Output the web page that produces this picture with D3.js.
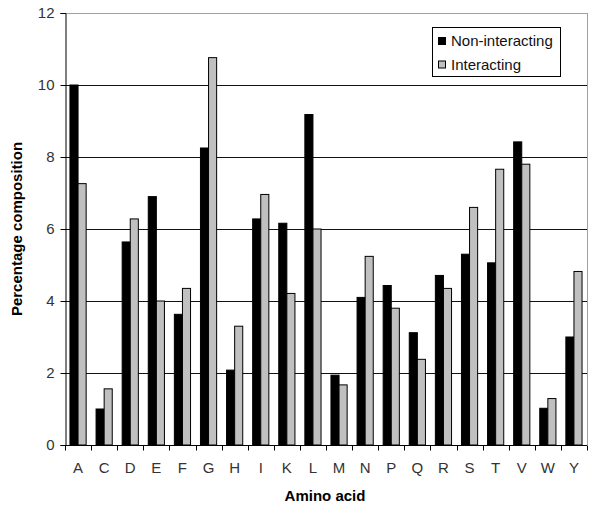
<!DOCTYPE html>
<html>
<head>
<meta charset="utf-8">
<script src="https://cdn.jsdelivr.net/npm/d3@7"></script>
<style>
  body { margin: 0; background: #fff; }
  text { font-family: Arial, "Liberation Sans", sans-serif; }
</style>
</head>
<body>
<svg id="chart" width="600" height="510"></svg>
<script>
const aminoAcids = ['A','C','D','E','F','G','H','I','K','L','M','N','P','Q','R','S','T','V','W','Y'];
const nonInteracting = [10.0, 1.0, 5.64, 6.9, 3.63, 8.25, 2.08, 6.28, 6.16, 9.18, 1.94, 4.1, 4.43, 3.12, 4.71, 5.3, 5.06, 8.42, 1.02, 3.0];
const interacting = [7.26, 1.56, 6.28, 4.0, 4.35, 10.76, 3.3, 6.96, 4.21, 6.0, 1.67, 5.24, 3.8, 2.38, 4.35, 6.6, 7.66, 7.8, 1.29, 4.82];
const seriesNames = ['Non-interacting', 'Interacting'];
const seriesColors = ['#000000', '#c0c0c0'];
const yTicks = [0, 2, 4, 6, 8, 10, 12];

const svg = d3.select('#chart');
const plotLeft = 65, plotRight = 587, plotTop = 13, plotBottom = 445;

const x = d3.scaleBand()
            .domain(aminoAcids)
            .range([plotLeft, plotRight])
            .padding(0);

const xSub = d3.scaleBand()
               .domain(seriesNames)
               .range([x.bandwidth() * 0.19, x.bandwidth() * 0.81]);

const y = d3.scaleLinear()
            .domain([0, 12])
            .range([plotBottom, plotTop]);

// gridlines
svg.append('g')
   .selectAll('line')
   .data(yTicks.filter(d => d > 0))
   .enter()
   .append('line')
     .attr('x1', plotLeft)
     .attr('x2', plotRight)
     .attr('y1', d => Math.round(y(d)) + 0.5)
     .attr('y2', d => Math.round(y(d)) + 0.5)
     .attr('stroke', d => d === 12 ? '#a0a0a0' : '#111')
     .attr('stroke-width', 1);

// right frame edge
svg.append('line')
   .attr('x1', plotRight + 0.5).attr('x2', plotRight + 0.5)
   .attr('y1', plotTop).attr('y2', plotBottom)
   .attr('stroke', '#a0a0a0');

// bars
const rows = aminoAcids.map((a, i) => ({
  acid: a,
  values: [
    { name: seriesNames[0], v: nonInteracting[i] },
    { name: seriesNames[1], v: interacting[i] }
  ]
}));

const cScale = d3.scaleOrdinal().domain(seriesNames).range(seriesColors);

const groups = svg.append('g')
                  .selectAll('g')
                  .data(rows)
                  .enter()
                  .append('g')
                  .attr('transform', d => `translate(${x(d.acid)},0)`);

groups.selectAll('rect')
      .data(d => d.values)
      .enter()
      .append('rect')
        .attr('x', d => xSub(d.name))
        .attr('y', d => y(d.v))
        .attr('width', xSub.bandwidth())
        .attr('height', d => y(0) - y(d.v))
        .attr('fill', d => cScale(d.name))
        .attr('stroke', '#000')
        .attr('stroke-width', 1);

// y axis
const yAxis = svg.append('g')
   .attr('transform', `translate(${plotLeft + 0.5},0)`)
   .call(d3.axisLeft(y).tickValues(yTicks).tickSize(5).tickPadding(6).tickFormat(d3.format('d')));
yAxis.select('.domain').attr('stroke', '#000');
yAxis.selectAll('text').attr('font-size', 15).attr('fill', '#333')
     .attr('font-family', 'Arial, "Liberation Sans", sans-serif');

// x axis
const xAxis = svg.append('g')
   .attr('transform', `translate(0,${plotBottom + 0.5})`)
   .call(d3.axisBottom(x).tickSize(0).tickPadding(17));
xAxis.select('.domain').attr('d', `M${plotLeft},0H${plotRight}`).attr('stroke', '#000');
xAxis.selectAll('text').attr('font-size', 15).attr('fill', '#333')
     .attr('font-family', 'Arial, "Liberation Sans", sans-serif');

// tick marks between categories
xAxis.append('g')
     .selectAll('line')
     .data(aminoAcids.concat(['end']))
     .enter()
     .append('line')
       .attr('x1', (d, i) => Math.round(plotLeft + i * x.bandwidth()) + 0.5)
       .attr('x2', (d, i) => Math.round(plotLeft + i * x.bandwidth()) + 0.5)
       .attr('y1', 0)
       .attr('y2', 5)
       .attr('stroke', '#000');

// axis titles
svg.append('text')
   .attr('x', 325)
   .attr('y', 501)
   .attr('text-anchor', 'middle')
   .attr('font-size', 15)
   .attr('font-weight', 'bold')
   .text('Amino acid');

svg.append('text')
   .attr('transform', 'translate(22,229) rotate(-90)')
   .attr('text-anchor', 'middle')
   .attr('font-size', 15)
   .attr('font-weight', 'bold')
   .text('Percentage composition');

// legend
const legend = svg.append('g');
legend.append('rect')
      .attr('x', 432.5)
      .attr('y', 27.5)
      .attr('width', 128)
      .attr('height', 49)
      .attr('fill', '#fff')
      .attr('stroke', '#000');

const legendItems = legend.selectAll('.legend-item')
                          .data(seriesNames)
                          .enter()
                          .append('g')
                          .attr('class', 'legend-item');

legendItems.append('rect')
           .attr('x', 438.5)
           .attr('y', (d, i) => 37.5 + i * 23.5)
           .attr('width', 7)
           .attr('height', 7)
           .attr('fill', d => cScale(d))
           .attr('stroke', '#000');

legendItems.append('text')
           .attr('x', 451)
           .attr('y', (d, i) => 46 + i * 23.5)
           .attr('font-size', 15)
           .attr('fill', '#111')
           .text(d => d);
</script>
</body>
</html>
